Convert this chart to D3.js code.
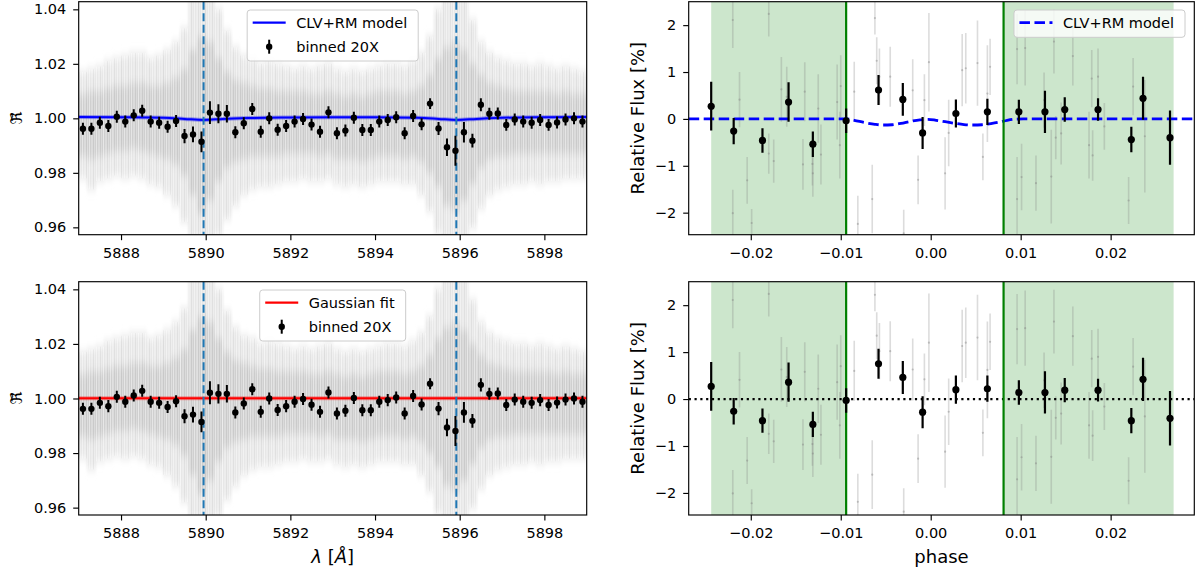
<!DOCTYPE html>
<html>
<head>
<meta charset="utf-8">
<script src="https://cdn.jsdelivr.net/npm/d3@7"></script>
<style>
body { margin:0; background:#fff; }
svg { display:block; font-family:"DejaVu Sans", sans-serif; }
</style>
</head>
<body>
<svg id="chart" width="1200" height="573"></svg>
<script>
// ---- transmission spectrum, binned 20x (0.2 A) ----
var binWave = [5887.1,5887.3,5887.5,5887.7,5887.9,5888.1,5888.3,5888.5,5888.7,5888.9,
  5889.1,5889.3,5889.5,5889.7,5889.9,5890.1,5890.3,5890.5,5890.7,5890.9,
  5891.1,5891.3,5891.5,5891.7,5891.9,5892.1,5892.3,5892.5,5892.7,5892.9,
  5893.1,5893.3,5893.5,5893.7,5893.9,5894.1,5894.3,5894.5,5894.7,5894.9,
  5895.1,5895.3,5895.5,5895.7,5895.9,5896.1,5896.3,5896.5,5896.7,5896.9,
  5897.1,5897.3,5897.5,5897.7,5897.9,5898.1,5898.3,5898.5,5898.7,5898.9];
var binFlux = [0.9962,0.9962,0.9984,0.9972,1.0006,0.9988,1.0011,1.0028,0.9988,0.9984,
  0.9969,0.9990,0.9935,0.9941,0.9914,1.0021,1.0017,1.0017,0.9949,0.9982,
  1.0034,0.9951,1.0000,0.9958,0.9972,0.9988,0.9998,0.9977,0.9951,1.0022,
  0.9945,0.9955,1.0002,0.9957,0.9957,0.9988,0.9994,1.0004,0.9945,1.0009,
  0.9978,1.0054,0.9963,0.9894,0.9881,0.9949,0.9918,1.0050,1.0017,1.0018,
  0.9976,0.9996,0.9988,0.9984,0.9994,0.9976,0.9985,0.9996,1.0000,0.9988];
var binErr = [0.0022,0.0022,0.0022,0.0022,0.0022,0.0022,0.0022,0.0022,0.0022,0.0022,
  0.0022,0.0022,0.0026,0.0029,0.0038,0.0042,0.0035,0.0032,0.0022,0.0022,
  0.0022,0.0022,0.0022,0.0022,0.0022,0.0022,0.0022,0.0022,0.0022,0.0022,
  0.0022,0.0022,0.0022,0.0022,0.0022,0.0022,0.0022,0.0022,0.0022,0.0022,
  0.0022,0.0020,0.0024,0.0032,0.0055,0.0038,0.0025,0.0024,0.0022,0.0022,
  0.0022,0.0022,0.0022,0.0022,0.0022,0.0022,0.0022,0.0022,0.0022,0.0022];

// envelope of the unbinned points (light grey cloud) per 0.2 A bin
var cloudHi = [1.017,1.018,1.019,1.021,1.022,1.023,1.024,1.024,1.022,1.023,
  1.025,1.028,1.033,1.045,1.045,1.045,1.040,1.032,1.026,1.023,
  1.022,1.020,1.021,1.020,1.019,1.018,1.019,1.018,1.019,1.020,
  1.018,1.017,1.018,1.017,1.018,1.019,1.020,1.020,1.019,1.021,
  1.024,1.030,1.040,1.045,1.045,1.045,1.036,1.028,1.024,1.022,
  1.021,1.020,1.020,1.019,1.020,1.019,1.018,1.019,1.018,1.017];
var cloudLo = [0.978,0.974,0.977,0.978,0.979,0.978,0.979,0.978,0.976,0.975,
  0.972,0.968,0.962,0.955,0.955,0.955,0.957,0.963,0.968,0.972,
  0.974,0.975,0.975,0.976,0.977,0.977,0.978,0.977,0.977,0.978,
  0.976,0.975,0.976,0.975,0.976,0.977,0.977,0.977,0.976,0.976,
  0.972,0.966,0.958,0.955,0.955,0.955,0.960,0.967,0.972,0.974,
  0.975,0.976,0.976,0.977,0.976,0.977,0.977,0.978,0.978,0.978];
var coreHi = [1.009,1.010,1.010,1.011,1.012,1.012,1.013,1.013,1.012,1.012,
  1.013,1.015,1.018,1.025,1.030,1.028,1.022,1.017,1.014,1.013,
  1.012,1.011,1.011,1.010,1.010,1.010,1.010,1.009,1.009,1.010,
  1.009,1.008,1.009,1.008,1.009,1.010,1.010,1.010,1.009,1.010,
  1.012,1.016,1.022,1.026,1.028,1.025,1.020,1.016,1.013,1.012,
  1.011,1.010,1.010,1.010,1.010,1.010,1.009,1.010,1.009,1.009];
var coreLo = [0.986,0.985,0.986,0.987,0.988,0.988,0.989,0.988,0.987,0.986,
  0.985,0.983,0.979,0.972,0.965,0.970,0.977,0.982,0.984,0.985,
  0.986,0.986,0.986,0.986,0.987,0.987,0.987,0.987,0.986,0.987,
  0.985,0.985,0.985,0.984,0.985,0.986,0.986,0.986,0.985,0.986,
  0.984,0.980,0.975,0.968,0.966,0.970,0.976,0.982,0.985,0.986,
  0.986,0.987,0.987,0.987,0.987,0.987,0.987,0.987,0.987,0.987];

// CLV+RM model and gaussian fit for the spectrum
var clvWave = [5887,5888,5889,5889.5,5889.95,5890.4,5891,5892,5893,5894,5895,5895.5,5895.92,5896.4,5897,5898,5899];
var clvFlux = [1.0005,1.0004,1.0002,0.9998,0.9994,0.9998,1.0001,1.0003,1.0004,1.0004,1.0002,0.9998,0.9994,0.9998,1.0002,1.0004,1.0005];
var gaussWave = [5887,5899];
var gaussFlux = [1.0001,1.0001];
var naLines = [5889.95,5895.92];

// ---- light curves ----
var lcPhase = [-0.0244,-0.0219,-0.0187,-0.0158,-0.0131,-0.0094,-0.0058,-0.0031,-0.0009,0.0028,
  0.0063,0.0098,0.0127,0.0149,0.0186,0.0223,0.0236,0.0266];
var lcFluxTop = [0.27,-0.26,-0.46,0.36,-0.54,-0.04,0.615,0.415,-0.30,0.115,
  0.15,0.15,0.15,0.20,0.20,-0.44,0.44,-0.40];
var lcFluxBottom = [0.27,-0.26,-0.46,0.36,-0.54,-0.03,0.75,0.46,-0.28,0.20,
  0.22,0.14,0.14,0.19,0.19,-0.46,0.42,-0.41];
var lcErr = [0.52,0.28,0.26,0.42,0.27,0.26,0.32,0.35,0.34,0.30,
  0.28,0.26,0.45,0.26,0.24,0.27,0.46,0.58];

// single exposures, out of transit (same in both panels)
var outPhase = [-0.0220,-0.0220,-0.02125,-0.0204,-0.0199,-0.0180,-0.0180,-0.01745,-0.0166,-0.0160,
  -0.0142,-0.0140,-0.01315,-0.0131,-0.0125,-0.0122,-0.0104,-0.0101,-0.0100,
  0.0096,0.0096,0.0101,0.0105,0.0117,0.0126,0.0134,0.0137,0.0139,0.0145,
  0.0158,0.0176,0.0179,0.0180,0.0186,0.0193,0.0220,0.0225,0.0238];
var outFlux = [2.11,-2.01,0.41,-1.31,-2.22,2.24,-0.74,-0.90,0.63,0.47,
  -0.97,0.58,-0.96,-1.16,0.22,-0.76,0.36,-0.56,0.70,
  1.49,-1.71,-1.24,1.51,-1.37,0.40,-1.23,1.65,-0.40,-0.31,
  1.34,-0.56,0.86,-0.78,0.90,-0.16,-1.74,0.69,-0.37];
var outErr = [0.6,0.5,0.59,0.5,0.3,0.48,0.43,0.46,0.69,0.64,
  0.54,0.63,0.46,0.5,0.73,0.64,0.8,0.71,0.66,
  0.75,0.9,0.71,0.8,0.59,0.59,1.0,0.68,0.46,0.66,
  0.63,0.71,0.61,0.54,0.6,0.5,0.5,0.61,1.2];
// in transit exposures (before / after model correction)
var inPhase = [-0.0085,-0.0081,-0.0065,-0.0062,-0.0060,-0.0057,-0.0045,-0.0030,-0.0020,-0.0014,
  -0.0007,-0.0002,0.0016,0.0020,0.0035,0.0039,0.0052,0.0058,0.0063,0.0066];
var inFluxTop = [0.58,-2.24,-1.71,2.15,1.24,0.90,0.90,-2.44,0.61,-1.30,
  0.40,1.21,-1.16,-0.30,1.04,1.08,1.19,-0.81,0.54,1.11];
var inFluxBottom = [0.60,-2.19,-1.61,2.22,1.35,1.02,1.02,-2.40,0.63,-1.27,
  0.42,1.20,-1.12,-0.27,1.13,1.20,1.31,-0.72,0.62,1.22];
var inErr = [0.64,0.6,0.73,0.35,0.5,0.6,0.64,0.5,0.66,0.52,
  0.55,1.05,0.77,0.71,0.77,0.75,0.91,0.5,1.03,0.6];

var modelPhase = [-0.0269,-0.0094,-0.0085,-0.0073,-0.0062,-0.0053,-0.0043,-0.0033,-0.0022,-0.0012,
  -0.0003,0.0006,0.0016,0.0027,0.0037,0.0047,0.0057,0.0067,0.0076,0.0085,0.0094,0.0103,0.0293];
var modelFlux = [0,0,-0.03,-0.08,-0.115,-0.13,-0.125,-0.095,-0.05,-0.02,
  -0.01,-0.03,-0.06,-0.095,-0.12,-0.13,-0.125,-0.10,-0.07,-0.03,-0.005,0,0];

var outOfTransit = [[-0.0244,-0.0094],[0.0081,0.0270]];
var contacts = [-0.0094,0.0081];

var waveTicks = [5888,5890,5892,5894,5896,5898];
var ratioTicks = [0.96,0.98,1.00,1.02,1.04];
var phaseTicks = [-0.02,-0.01,0.00,0.01,0.02];
var fluxTicks = [-2,-1,0,1,2];

// ---------------------------------------------------------------
var svg = d3.select("#chart");
var defs = svg.append("defs");
defs.append("filter").attr("id","soft")
  .attr("x","-5%").attr("y","-30%").attr("width","110%").attr("height","160%")
  .append("feGaussianBlur").attr("stdDeviation","0.8 5");

// thin vertical streaks laid over the grey cloud (looks like single error bars)
var streak = defs.append("pattern").attr("id","streaks")
  .attr("patternUnits","userSpaceOnUse").attr("width",7).attr("height",20);
streak.append("rect").attr("x",0.5).attr("y",0).attr("width",1).attr("height",20).attr("fill","#fff").attr("fill-opacity",0.5);
streak.append("rect").attr("x",3).attr("y",0).attr("width",0.8).attr("height",20).attr("fill","#fff").attr("fill-opacity",0.3);
streak.append("rect").attr("x",5).attr("y",0).attr("width",1).attr("height",20).attr("fill","#fff").attr("fill-opacity",0.45);
streak.append("rect").attr("x",2).attr("y",0).attr("width",0.7).attr("height",20).attr("fill","#999").attr("fill-opacity",0.12);

var xWave = d3.scaleLinear().domain([5887,5899]).range([78.7,586.7]);
var xPhase = d3.scaleLinear().domain([-0.0269,0.0293]).range([688.7,1194.3]);
var rows = [{top:1.7,bottom:234.7},{top:281.7,bottom:515}];

var fs = 14.5;

function frame(g, x0, x1, top, bottom) {
  g.append("rect").attr("x",x0).attr("y",top).attr("width",x1-x0).attr("height",bottom-top)
    .attr("fill","none").attr("stroke","#000").attr("stroke-width",1.15);
}

function axes(g, x, y, xt, yt, xfmt, yfmt, bottom, left) {
  var ax = g.append("g").attr("transform","translate(0,"+bottom+")")
    .call(d3.axisBottom(x).tickValues(xt).tickFormat(xfmt).tickSize(5.5).tickPadding(7.5));
  var ay = g.append("g").attr("transform","translate("+left+",0)")
    .call(d3.axisLeft(y).tickValues(yt).tickFormat(yfmt).tickSize(5.5).tickPadding(7));
  [ax,ay].forEach(function(a){
    a.select(".domain").remove();
    a.selectAll("line").attr("stroke","#000").attr("stroke-width",1.15);
    a.selectAll("text").attr("font-size",fs).attr("fill","#000").attr("font-family","DejaVu Sans");
  });
}

function clip(id, x0, x1, top, bottom) {
  defs.append("clipPath").attr("id",id).append("rect")
    .attr("x",x0).attr("y",top).attr("width",x1-x0).attr("height",bottom-top);
}

function legendBox(g, rowsL, yTop, anchorX, align) {
  var lg = g.append("g");
  var box = lg.append("rect");
  var texts = [];
  rowsL.forEach(function(r, i) {
    var t = lg.append("text").attr("font-size",fs).attr("fill","#000")
      .attr("dominant-baseline","central").text(r.label);
    texts.push(t);
  });
  var tw = d3.max(texts, function(t){ return t.node().getComputedTextLength(); });
  var w = 49 + tw + 11;
  var h = rowsL.length == 2 ? 51 : 27.3;
  var bx = align == "center" ? anchorX - w/2 : anchorX - w;
  box.attr("x",bx).attr("y",yTop).attr("width",w).attr("height",h).attr("rx",3)
    .attr("fill","#fff").attr("fill-opacity",0.8).attr("stroke","#cccccc").attr("stroke-width",1);
  rowsL.forEach(function(r, i) {
    var cy = yTop + 12.7 + i*24;
    texts[i].attr("x",bx+49).attr("y",cy);
    var h0 = bx+5.5, h1 = bx+38.5;
    if (r.type == "err") {
      lg.append("line").attr("x1",(h0+h1)/2).attr("x2",(h0+h1)/2).attr("y1",cy-7).attr("y2",cy+7)
        .attr("stroke","#000").attr("stroke-width",2);
      lg.append("circle").attr("cx",(h0+h1)/2).attr("cy",cy).attr("r",3.2).attr("fill","#000");
    } else {
      lg.append("line").attr("x1",h0).attr("x2",h1).attr("y1",cy).attr("y2",cy)
        .attr("stroke",r.color).attr("stroke-width",r.width)
        .attr("stroke-dasharray",r.dash || null);
    }
  });
}

// ---------- spectrum panels ----------
function spectrumPanel(row, mWave, mFlux, mColor, mLabel, id) {
  var y = d3.scaleLinear().domain([0.9573,1.0428]).range([row.bottom,row.top]);
  var g = svg.append("g");
  clip(id, 78.7, 586.7, row.top, row.bottom);
  var inner = g.append("g").attr("clip-path","url(#"+id+")");

  var cloud = inner.append("g").attr("filter","url(#soft)");
  var half = (xWave(5887.2)-xWave(5887.0))/2;
  cloud.selectAll("rect.o").data(binWave).join("rect").attr("class","o")
    .attr("x",function(d){ return xWave(d)-half-0.3; }).attr("width",2*half+0.6)
    .attr("y",function(d,i){ return y(cloudHi[i]); })
    .attr("height",function(d,i){ return y(cloudLo[i])-y(cloudHi[i]); })
    .attr("fill","#e7e7e7");
  cloud.selectAll("rect.c").data(binWave).join("rect").attr("class","c")
    .attr("x",function(d){ return xWave(d)-half-0.3; }).attr("width",2*half+0.6)
    .attr("y",function(d,i){ return y(coreHi[i]); })
    .attr("height",function(d,i){ return y(coreLo[i])-y(coreHi[i]); })
    .attr("fill","#cfcfcf");
  // streak texture only where the cloud is
  inner.append("g").selectAll("rect").data(binWave).join("rect")
    .attr("x",function(d){ return xWave(d)-half-0.3; }).attr("width",2*half+0.6)
    .attr("y",function(d,i){ return y(cloudHi[i]); })
    .attr("height",function(d,i){ return y(cloudLo[i])-y(cloudHi[i]); })
    .attr("fill","url(#streaks)");

  var line = d3.line().x(function(d){ return xWave(d[0]); }).y(function(d){ return y(d[1]); })
    .curve(d3.curveMonotoneX);
  var md = d3.zip(mWave, mFlux);
  inner.append("path").attr("d",line(md)).attr("fill","none")
    .attr("stroke",mColor).attr("stroke-opacity",0.35).attr("stroke-width",4);
  inner.append("path").attr("d",line(md)).attr("fill","none")
    .attr("stroke",mColor).attr("stroke-width",2);

  inner.selectAll("line.na").data(naLines).join("line").attr("class","na")
    .attr("x1",xWave).attr("x2",xWave).attr("y1",row.top).attr("y2",row.bottom)
    .attr("stroke","#1f77b4").attr("stroke-width",2).attr("stroke-dasharray","8,3.5");

  var pts = inner.append("g");
  pts.selectAll("line").data(binWave).join("line")
    .attr("x1",xWave).attr("x2",xWave)
    .attr("y1",function(d,i){ return y(binFlux[i]-binErr[i]); })
    .attr("y2",function(d,i){ return y(binFlux[i]+binErr[i]); })
    .attr("stroke","#000").attr("stroke-width",2);
  pts.selectAll("circle").data(binWave).join("circle")
    .attr("cx",xWave).attr("cy",function(d,i){ return y(binFlux[i]); })
    .attr("r",3.2).attr("fill","#000");

  frame(g, 78.7, 586.7, row.top, row.bottom);
  axes(g, xWave, y, waveTicks, ratioTicks, d3.format(".0f"), d3.format(".2f"), row.bottom, 78.7);

  // y label: tilde R (fraktur)
  var cy = (row.top+row.bottom)/2;
  var yl = g.append("g").attr("transform","translate(21.5,"+cy+") rotate(-90)");
  yl.append("text").attr("text-anchor","middle").attr("y",0).attr("font-size",16)
    .attr("font-family","DejaVu Sans").text("\u211C");
  yl.append("text").attr("text-anchor","middle").attr("x",1).attr("y",-5.5).attr("font-size",12)
    .attr("font-family","DejaVu Sans").text("~");

  legendBox(g, [{type:"line",color:mColor,width:2.2,label:mLabel},{type:"err",label:"binned 20X"}],
    row.top+8.3, (78.7+586.7)/2, "center");
  return g;
}

spectrumPanel(rows[0], clvWave, clvFlux, "#0000ff", "CLV+RM model", "clipA");
var bl = spectrumPanel(rows[1], gaussWave, gaussFlux, "#ff0000", "Gaussian fit", "clipB");
bl.append("text").attr("x",(78.7+586.7)/2).attr("y",563).attr("text-anchor","middle")
  .attr("font-size",18).attr("font-family","DejaVu Sans")
  .html('<tspan font-style="italic">\u03BB</tspan> [<tspan font-style="italic">\u00C5</tspan>]');

// ---------- light curve panels ----------
function lightPanel(row, inFlux, flux, withModel, id) {
  var y = d3.scaleLinear().domain([-2.47,2.5]).range([row.bottom,row.top]);
  var g = svg.append("g");
  clip(id, 688.7, 1194.3, row.top, row.bottom);
  var inner = g.append("g").attr("clip-path","url(#"+id+")");

  inner.selectAll("rect.oot").data(outOfTransit).join("rect").attr("class","oot")
    .attr("x",function(d){ return xPhase(d[0]); })
    .attr("width",function(d){ return xPhase(d[1])-xPhase(d[0]); })
    .attr("y",row.top).attr("height",row.bottom-row.top)
    .attr("fill","#008000").attr("fill-opacity",0.2);

  var single = d3.zip(outPhase,outFlux,outErr).concat(d3.zip(inPhase,inFlux,inErr));
  var sg = inner.append("g");
  sg.selectAll("line").data(single).join("line")
    .attr("x1",function(d){ return xPhase(d[0]); }).attr("x2",function(d){ return xPhase(d[0]); })
    .attr("y1",function(d){ return y(d[1]-d[2]); }).attr("y2",function(d){ return y(d[1]+d[2]); })
    .attr("stroke","#808080").attr("stroke-opacity",0.28).attr("stroke-width",1.6);
  sg.selectAll("circle").data(single).join("circle")
    .attr("cx",function(d){ return xPhase(d[0]); }).attr("cy",function(d){ return y(d[1]); })
    .attr("r",1.1).attr("fill","#808080").attr("fill-opacity",0.4);

  if (withModel) {
    var line = d3.line().x(function(d){ return xPhase(d[0]); }).y(function(d){ return y(d[1]); })
      .curve(d3.curveMonotoneX);
    inner.append("path").attr("d",line(d3.zip(modelPhase,modelFlux))).attr("fill","none")
      .attr("stroke","#0000ff").attr("stroke-width",2.8).attr("stroke-dasharray","10.5,4.5");
  } else {
    inner.append("line").attr("x1",688.7).attr("x2",1194.3).attr("y1",y(0)).attr("y2",y(0))
      .attr("stroke","#000").attr("stroke-width",2.2).attr("stroke-dasharray","2.2,3.6");
  }

  inner.selectAll("line.ct").data(contacts).join("line").attr("class","ct")
    .attr("x1",xPhase).attr("x2",xPhase).attr("y1",row.top).attr("y2",row.bottom)
    .attr("stroke","#008000").attr("stroke-width",2.2);

  var pts = inner.append("g");
  pts.selectAll("line").data(lcPhase).join("line")
    .attr("x1",xPhase).attr("x2",xPhase)
    .attr("y1",function(d,i){ return y(flux[i]-lcErr[i]); })
    .attr("y2",function(d,i){ return y(flux[i]+lcErr[i]); })
    .attr("stroke","#000").attr("stroke-width",2.2);
  pts.selectAll("circle").data(lcPhase).join("circle")
    .attr("cx",xPhase).attr("cy",function(d,i){ return y(flux[i]); })
    .attr("r",3.6).attr("fill","#000");

  frame(g, 688.7, 1194.3, row.top, row.bottom);
  axes(g, xPhase, y, phaseTicks, fluxTicks, d3.format(".2f"), d3.format("d"), row.bottom, 688.7);

  g.append("text").attr("transform","translate(637,"+((row.top+row.bottom)/2)+") rotate(-90)")
    .attr("text-anchor","middle").attr("dominant-baseline","central")
    .attr("font-size",18).attr("font-family","DejaVu Sans").text("Relative Flux [%]");
  return g;
}

var tr = lightPanel(rows[0], inFluxTop, lcFluxTop, true, "clipC");
legendBox(tr, [{type:"line",color:"#0000ff",width:2.8,dash:"10.5,4.5",label:"CLV+RM model"}],
  rows[0].top+8.3, 1185, "right");
var br = lightPanel(rows[1], inFluxBottom, lcFluxBottom, false, "clipD");
br.append("text").attr("x",(688.7+1194.3)/2).attr("y",563).attr("text-anchor","middle")
  .attr("font-size",18).attr("font-family","DejaVu Sans").text("phase");
</script>
</body>
</html>
